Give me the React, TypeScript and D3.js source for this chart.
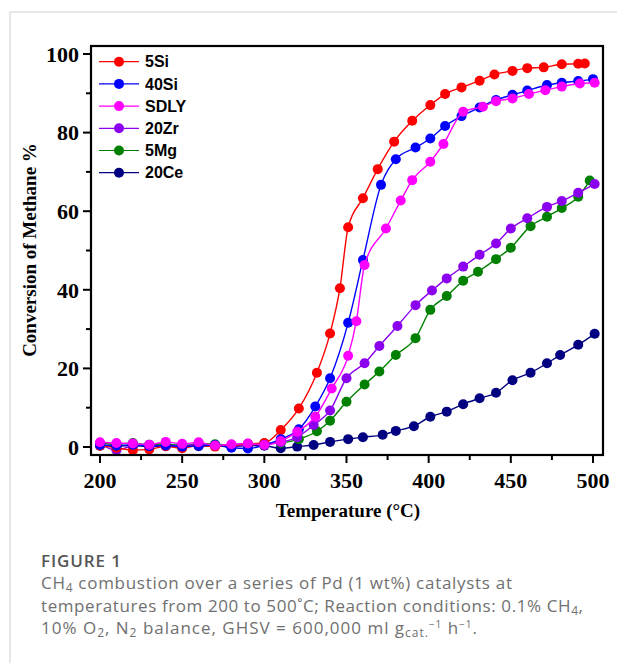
import React from 'react'
import * as d3 from 'd3'

// temperatures (°C) and conversions (%)
const lowTemps = [200, 210, 220, 230, 240, 250, 260, 270, 280, 290, 300]

const si5Temps = [...lowTemps, 310, 321, 332, 340, 346, 351, 360, 369, 379, 390, 401, 410, 420, 431, 440, 451, 460, 470, 481, 491, 495]
const si5Values = [0.3, -0.2, -0.8, -0.6, 0.2, -0.3, 0.4, 0.1, 0.3, 0.8, 1.0, 4.3, 9.8, 18.9, 28.9, 40.4, 55.9, 63.3, 70.7, 77.7, 83.0, 87.0, 89.8, 91.5, 93.2, 94.8, 95.7, 96.4, 96.6, 97.4, 97.5, 97.6]

const si40Temps = [...lowTemps, 310, 321, 331, 340, 351, 360, 371, 380, 392, 401, 410, 420, 431, 441, 451, 460, 472, 481, 491, 500]
const si40Values = [0.5, 0.3, 0.6, 0.2, 0.4, 0.1, 0.3, 0.5, -0.2, -0.4, 0.5, 2.0, 4.5, 10.3, 17.5, 31.6, 47.6, 66.7, 73.2, 76.2, 78.5, 81.7, 84.2, 86.4, 88.3, 89.6, 90.7, 92.1, 92.7, 93.1, 93.6]

const sdlyTemps = [...lowTemps, 310, 320, 331, 341, 351, 356, 361, 374, 383, 390, 401, 409, 421, 433, 441, 451, 461, 471, 481, 492, 501]
const sdlyValues = [1.2, 1.0, 0.9, 0.6, 1.3, 0.8, 1.2, 0.4, 0.7, 0.9, 0.5, 1.5, 3.9, 7.7, 14.9, 23.2, 32.0, 46.3, 55.6, 62.7, 67.9, 72.6, 77.1, 85.3, 86.6, 88.0, 88.7, 89.8, 90.8, 91.7, 92.5, 92.7]

const zr20Temps = [...lowTemps, 310, 320, 330, 340, 350, 361, 370, 381, 392, 402, 411, 421, 431, 441, 450, 460, 472, 481, 491, 501]
const zr20Values = [0.8, -0.8, 0.3, 0.5, 0.2, 0.4, 0.6, 0.3, 0.2, 0.5, 0.8, 1.2, 2.5, 5.6, 9.3, 17.5, 21.3, 25.7, 30.8, 36.1, 39.8, 42.9, 45.9, 48.9, 51.8, 55.6, 58.2, 61.1, 62.6, 64.7, 66.9]

const mg5Temps = [...lowTemps, 310, 321, 332, 340, 350, 361, 370, 380, 392, 401, 411, 421, 430, 441, 450, 462, 472, 481, 491, 498]
const mg5Values = [0.9, 0.7, 1.0, 0.6, 0.8, 0.2, 0.9, 0.7, 0.5, 0.6, 0.8, 1.0, 2.0, 4.0, 6.7, 11.5, 15.9, 19.2, 23.4, 27.7, 34.9, 38.4, 42.3, 44.6, 47.8, 50.7, 56.2, 58.6, 60.8, 63.7, 67.8]

const ce20Temps = [...lowTemps, 310, 320, 330, 340, 351, 360, 372, 380, 391, 401, 411, 421, 431, 441, 451, 462, 472, 480, 491, 501]
const ce20Values = [0.3, 0.2, 0.4, 0.1, 0.3, 0.5, 0.2, 0.3, 0.1, 0.4, 0.3, -0.3, 0.1, 0.5, 1.3, 2.0, 2.5, 3.1, 4.1, 5.3, 7.7, 9.0, 10.9, 12.4, 13.8, 17.0, 18.9, 21.3, 23.4, 26.0, 28.8]

const seriesNames = ['5Si', '40Si', 'SDLY', '20Zr', '5Mg', '20Ce']
const seriesColors = ['#ff0000', '#0000ff', '#ff00ff', '#8c00f0', '#008000', '#000080']
const seriesTemps = [si5Temps, si40Temps, sdlyTemps, zr20Temps, mg5Temps, ce20Temps]
const seriesValues = [si5Values, si40Values, sdlyValues, zr20Values, mg5Values, ce20Values]
// drawing order, back to front
const drawOrder = [5, 4, 3, 0, 1, 2]

const xTicks = [200, 250, 300, 350, 400, 450, 500]
const xMinorTicks = [225, 275, 325, 375, 425, 475]
const yTicks = [0, 20, 40, 60, 80, 100]
const yMinorTicks = [10, 30, 50, 70, 90]

const serif = '"Times New Roman", "Liberation Serif", serif'
const sans = 'Arial, "Liberation Sans", sans-serif'
const captionFont = '"Open Sans", "Noto Sans", sans-serif'

export default function App() {
  const width = 617, height = 663
  const box = { left: 91, right: 603, top: 46, bottom: 455 }

  const x = d3.scaleLinear().domain([200, 500]).range([100, 593])
  const y = d3.scaleLinear().domain([0, 100]).range([447, 54])

  const line = d3.line<[number, number]>()
    .x(d => x(d[0]))
    .y(d => y(d[1]))
    .curve(d3.curveMonotoneX)

  const series = seriesNames.map((name, i) => ({
    name,
    color: seriesColors[i],
    points: seriesTemps[i].map((t, j) => [t, seriesValues[i][j]] as [number, number])
  }))

  const capColor = '#707070'
  const capSize = 17

  return (
    <svg width={width} height={height}
      style={{ position: 'absolute', left: 0, top: 0, background: '#fff' }}>
      {/* card border */}
      <line x1={10} x2={width} y1={12} y2={12} stroke='#d0d0d0' strokeWidth={1} />
      <line x1={10} x2={10} y1={12} y2={height} stroke='#d0d0d0' strokeWidth={1} />

      {/* series */}
      {drawOrder.map(i => {
        const s = series[i]
        return (
          <g key={s.name}>
            <path d={line(s.points) || ''} fill='none' stroke={s.color} strokeWidth={1.4} />
            {s.points.map((p, j) => (
              <circle key={j} cx={x(p[0])} cy={y(p[1])} r={5} fill={s.color} />
            ))}
          </g>
        )
      })}

      {/* frame */}
      <rect x={box.left} y={box.top} width={box.right - box.left} height={box.bottom - box.top}
        fill='none' stroke='#000' strokeWidth={2.2} />

      {/* x axis ticks */}
      {xTicks.map(t => (
        <g key={'x' + t}>
          <line x1={x(t)} x2={x(t)} y1={box.bottom} y2={box.bottom + 8} stroke='#000' strokeWidth={2} />
          <text x={x(t)} y={488} textAnchor='middle' fontFamily={serif} fontWeight='bold' fontSize={22}>{t}</text>
        </g>
      ))}
      {xMinorTicks.map(t => (
        <line key={'xm' + t} x1={x(t)} x2={x(t)} y1={box.bottom} y2={box.bottom + 5} stroke='#000' strokeWidth={2} />
      ))}

      {/* y axis ticks */}
      {yTicks.map(t => (
        <g key={'y' + t}>
          <line x1={box.left - 8} x2={box.left} y1={y(t)} y2={y(t)} stroke='#000' strokeWidth={2} />
          <text x={79} y={y(t)} dy='0.35em' textAnchor='end' fontFamily={serif} fontWeight='bold' fontSize={22}>{t}</text>
        </g>
      ))}
      {yMinorTicks.map(t => (
        <line key={'ym' + t} x1={box.left - 5} x2={box.left} y1={y(t)} y2={y(t)} stroke='#000' strokeWidth={2} />
      ))}

      {/* axis titles */}
      <text x={348} y={517} textAnchor='middle' fontFamily={serif} fontWeight='bold' fontSize={19}>Temperature (°C)</text>
      <text transform={`translate(36,250) rotate(-90)`} textAnchor='middle' fontFamily={serif} fontWeight='bold' fontSize={19}>Conversion of Methane %</text>

      {/* legend */}
      {series.map((s, i) => {
        const ly = 61.7 + i * 22.2
        return (
          <g key={'lg' + s.name}>
            <line x1={99} x2={139} y1={ly} y2={ly} stroke={s.color} strokeWidth={1.2} />
            <circle cx={119} cy={ly} r={5} fill={s.color} />
            <text x={145} y={ly} dy='0.36em' fontFamily={sans} fontWeight='bold' fontSize={16}>{s.name}</text>
          </g>
        )
      })}

      {/* caption */}
      <text x={41} y={566.5} fontFamily={captionFont} fontWeight={600} fontSize={capSize} fill='#555'
        textLength={80} lengthAdjust='spacing'>FIGURE 1</text>
      <text x={41} y={589} fontFamily={captionFont} fontSize={capSize} fill={capColor}
        textLength={471} lengthAdjust='spacing'>
        CH<tspan fontSize={12} dy={3}>4</tspan><tspan dy={-3}> combustion over a series of Pd (1 wt%) catalysts at</tspan>
      </text>
      <text x={41} y={611.5} fontFamily={captionFont} fontSize={capSize} fill={capColor}
        textLength={542} lengthAdjust='spacing'>
        temperatures from 200 to 500˚C; Reaction conditions: 0.1% CH<tspan fontSize={12} dy={3}>4</tspan><tspan dy={-3}>,</tspan>
      </text>
      <text x={41} y={634} fontFamily={captionFont} fontSize={capSize} fill={capColor}
        textLength={436} lengthAdjust='spacing'>
        10% O<tspan fontSize={12} dy={3}>2</tspan><tspan dy={-3}>, N</tspan><tspan fontSize={12} dy={3}>2</tspan><tspan dy={-3}> balance, GHSV = 600,000 ml g</tspan><tspan fontSize={12} dy={3}>cat.</tspan><tspan fontSize={10} dy={-9}>−1</tspan><tspan dy={6}> h</tspan><tspan fontSize={10} dy={-6}>−1</tspan><tspan dy={6}>.</tspan>
      </text>
    </svg>
  )
}
